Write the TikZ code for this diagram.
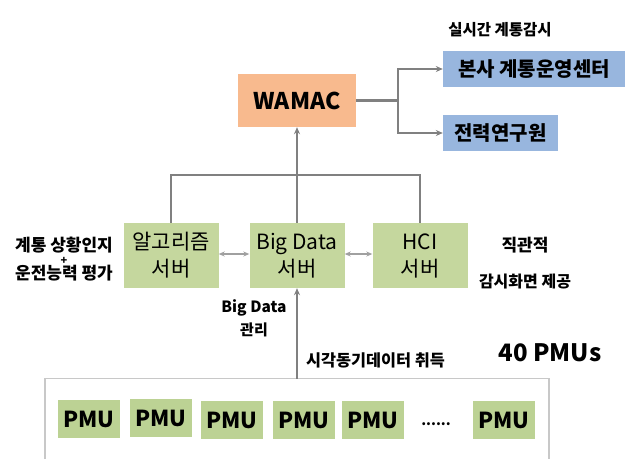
\documentclass[tikz,border=0pt]{standalone}
\usepackage{fontspec}
\setmainfont{Noto Sans CJK KR}
\usetikzlibrary{arrows.meta}
\definecolor{lineg}{RGB}{128,128,128}
\definecolor{lightg}{RGB}{160,160,160}
\definecolor{orangebox}{RGB}{248,186,142}
\definecolor{bluebox}{RGB}{152,182,222}
\definecolor{greenbox}{RGB}{197,215,158}
\definecolor{pmubox}{RGB}{188,210,148}
\definecolor{frameg}{RGB}{200,200,200}
\tikzset{
  conn/.style={draw=lineg, line width=2.2pt},
  arr/.style={conn, -{Stealth[length=7pt,width=6pt]}},
  darr/.style={draw=lightg, line width=2pt, {Stealth[length=6pt,width=5pt]}-{Stealth[length=6pt,width=5pt]}},
  wamacbox/.style={fill=orangebox, minimum width=118pt, minimum height=53pt, inner sep=0pt, font=\fontsize{23}{26}\selectfont\bfseries},
  bluenode/.style={fill=bluebox, minimum height=36pt, inner sep=0pt, font=\fontsize{20}{24}\selectfont\bfseries},
  server/.style={fill=greenbox, minimum width=95pt, minimum height=65pt, inner sep=0pt, align=center, font=\fontsize{21}{27}\selectfont},
  pmu/.style={fill=pmubox, minimum width=62pt, minimum height=38pt, inner sep=0pt, font=\fontsize{22}{24}\selectfont\bfseries},
  lbl/.style={inner sep=0pt, font=\fontsize{17}{18}\selectfont\bfseries},
}
\begin{document}
\begin{tikzpicture}[x=1pt,y=-1pt]
\useasboundingbox (0,0) rectangle (635,459);
% top
\node[wamacbox] (wamac) at (297,100.5) {WAMAC};
\node[bluenode, minimum width=182pt] (hq) at (534,69) {본사 계통운영센터};
\node[bluenode, minimum width=115pt] (kepri) at (500.5,133) {전력연구원};
\node[lbl, font=\fontsize{15.5}{18}\selectfont\bfseries] (rt) at (500,30) {실시간 계통감시};
\coordinate (br) at (398,100.5);
\draw[conn] (wamac.east) -- (br);
\draw[arr] (br) |- (hq.west);
\draw[arr] (br) |- (kepri.west);
% servers
\node[server] (alg) at (171,255.5) {알고리즘\\서버};
\node[server] (big) at (297,255.5) {Big Data\\서버};
\node[server] (hci) at (420,255.5) {HCI\\서버};
\coordinate (busl) at (171,175);
\coordinate (busm) at (297,175);
\coordinate (busr) at (420,175);
\draw[conn] (alg.north) -- (busl) -- (busr) -- (hci.north);
\draw[conn] (big.north) -- (busm);
\draw[arr] (busm) -- (wamac.south);
\draw[darr] ([yshift=1.5pt]alg.east) -- ([yshift=1.5pt]big.west);
\draw[darr] ([yshift=1.5pt]big.east) -- ([yshift=1.5pt]hci.west);
% side labels
\node[lbl] (l1) at (64,245) {계통 상황인지};
\node[lbl, font=\fontsize{11}{12}\selectfont\bfseries] (lp) at (64,261) {+};
\node[lbl] (l2) at (64,273) {운전능력 평가};
\node[lbl] (r1) at (525,245) {직관적};
\node[lbl, font=\fontsize{16}{18}\selectfont\bfseries] (r2) at (525,282) {감시화면 제공};
\node[lbl, font=\fontsize{15.5}{18}\selectfont\bfseries] (bd1) at (254,308) {Big Data};
\node[lbl, font=\fontsize{15}{18}\selectfont\bfseries] (bd2) at (254,330) {관리};
\node[lbl, font=\fontsize{16.3}{18}\selectfont\bfseries, anchor=west] (sync) at (306,360) {시각동기데이터 취득};
\node[lbl, font=\fontsize{24}{26}\selectfont\bfseries] (n40) at (550,353) {40 PMUs};
% PMU frame
\coordinate (fbl) at (45,459);
\coordinate (ftl) at (45,378.5);
\coordinate (ftm) at (297,378.5);
\coordinate (ftr) at (549,378.5);
\coordinate (fbr) at (549,459);
\draw[draw=frameg, line width=1.3pt] (fbl) -- (ftl) -- (ftr) -- (fbr);
\draw[arr] (ftm) -- (big.south);
\node[pmu] (p1) at (89,419) {PMU};
\node[pmu] (p2) at (161,418) {PMU};
\node[pmu] (p3) at (232,420) {PMU};
\node[pmu] (p4) at (304,420) {PMU};
\node[pmu] (p5) at (373,420) {PMU};
\node[inner sep=0pt, font=\fontsize{14}{16}\selectfont\bfseries] (dots) at (436,424) {......};
\node[pmu] (p6) at (504,420) {PMU};
\end{tikzpicture}
\end{document}
